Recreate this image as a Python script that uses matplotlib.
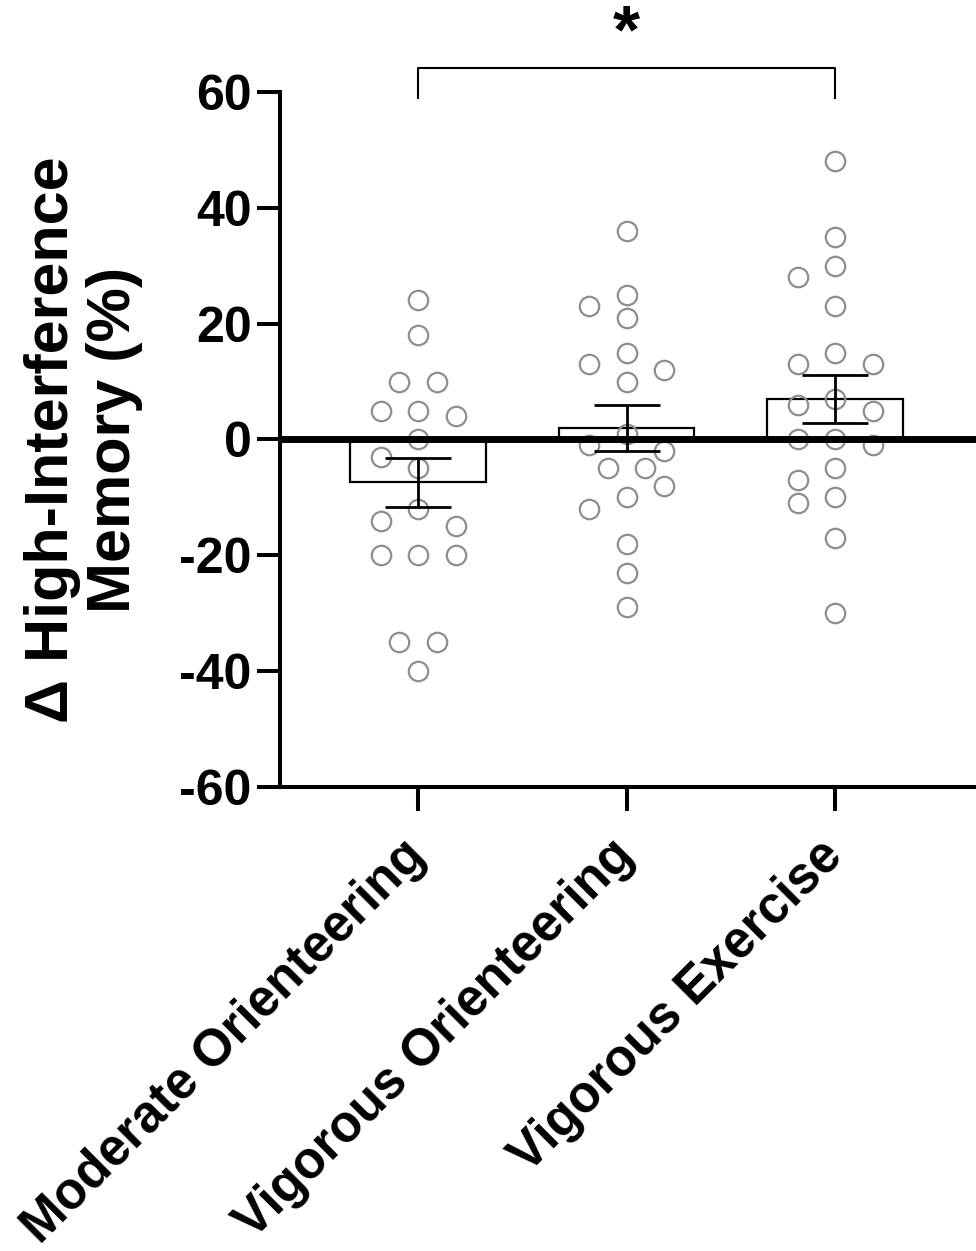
import numpy as np
import matplotlib.pyplot as plt

plt.rcParams['font.family'] = ['Liberation Sans', 'DejaVu Sans']
plt.rcParams['font.weight'] = 'bold'

groups = ['Moderate Orienteering', 'Vigorous Orienteering', 'Vigorous Exercise']
moderate_orient = [24, 18, 10, 10, 5, 5, 4, 0, -3, -5, -12, -14, -15,
                   -20, -20, -20, -35, -35, -40]
vigorous_orient = [36, 25, 23, 21, 15, 13, 12, 10, 1, -1, -2, -5, -5,
                   -8, -10, -12, -18, -23, -29]
vigorous_exercise = [48, 35, 30, 28, 23, 15, 13, 13, 7, 6, 5, 0, 0, -1,
                     -5, -7, -10, -11, -17, -30]
means = [-7.4, 2.0, 7.0]
sems = [4.2, 4.0, 4.2]
yticks = [-60, -40, -20, 0, 20, 40, 60]

fig = plt.figure(figsize=(9.76, 12.51), dpi=100)
ax = fig.add_axes([0.2869, 0.3709, 0.7131, 0.5556])
ax.set_xlim(-0.662, 2.676)
ax.set_ylim(-60, 60)

# pixel scales, used only for the swarm layout
px_x = 696 / (2.676 + 0.662)
px_y = 695 / 120.0
diam = 21.0
step = 0.18


def swarm(vals):
    vals = sorted(vals, reverse=True)
    placed = []
    for v in vals:
        for off in [0, -step, step, -2 * step, 2 * step]:
            ok = True
            for (o, w) in placed:
                d = np.hypot((o - off) * px_x, (w - v) * px_y)
                if d < diam:
                    ok = False
                    break
            if ok:
                placed.append((off, v))
                break
    # centre rows of equal values when there is room
    offs = np.array([p[0] for p in placed])
    vs = np.array([p[1] for p in placed])
    for v in np.unique(vs):
        idx = np.where(vs == v)[0]
        shift = offs[idx].mean()
        if len(idx) < 2 or abs(shift) < 1e-9:
            continue
        new = offs.copy()
        new[idx] -= shift
        clash = False
        for i in idx:
            for j in range(len(vs)):
                if j in idx:
                    continue
                if np.hypot((new[i] - new[j]) * px_x, (vs[i] - vs[j]) * px_y) < diam:
                    clash = True
        if not clash:
            offs = new
    return offs, vs


x = np.arange(len(groups))
ax.bar(x, means, width=0.65, facecolor='white', edgecolor='black',
       linewidth=1.6, zorder=2)

for i, data in enumerate([moderate_orient, vigorous_orient, vigorous_exercise]):
    offs, vs = swarm(data)
    ax.plot(i + offs, vs, 'o', ms=14, mfc='none', mec='#8e8e8e', mew=1.6,
            zorder=3, clip_on=False)

ax.errorbar(x, means, yerr=sems, fmt='none', ecolor='black', elinewidth=2.0,
            capsize=24, capthick=2.0, zorder=4)

ax.axhline(0, xmin=0, xmax=0.9957, color='black', lw=5, zorder=5)

for s in ['top', 'right']:
    ax.spines[s].set_visible(False)
for s in ['left', 'bottom']:
    ax.spines[s].set_linewidth(2.9)

ax.set_yticks(yticks)
ax.set_yticklabels([str(t) for t in yticks], fontsize=36, fontweight='bold')
ax.tick_params(axis='y', length=16.5, width=2.9, pad=4)
ax.set_xticks(x)
ax.set_xticklabels(groups, fontsize=37, fontweight='bold', rotation=45,
                   ha='right', va='center', rotation_mode='anchor')
ax.tick_params(axis='x', length=17, width=2.9, pad=27)

ax.set_ylabel('Δ High-Interference\nMemory (%)', fontsize=44,
              fontweight='bold', linespacing=1.12)
ax.yaxis.set_label_coords(-0.197, 0.5)

# significance bracket
ax.plot([0, 0, 2, 2], [58.9, 64.2, 64.2, 58.9], color='black', lw=1.5,
        clip_on=False)
ax.text(1, 70.0, '*', fontsize=50, fontweight='bold', ha='center',
        va='center')

fig.savefig('out.png', dpi=100)
